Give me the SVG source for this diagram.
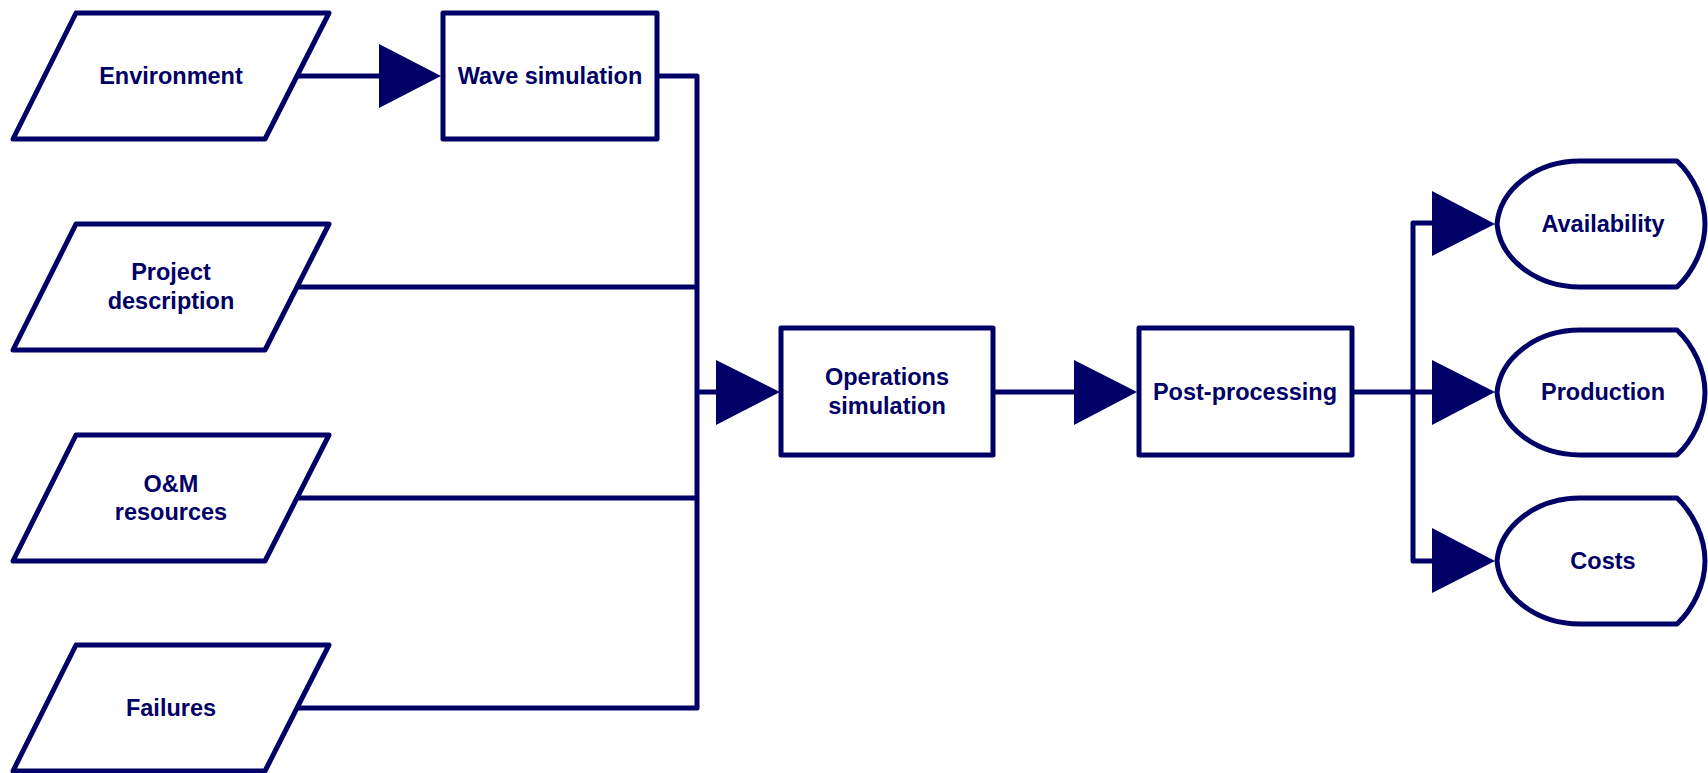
<svg xmlns="http://www.w3.org/2000/svg" width="1708" height="773" viewBox="0 0 1708 773">
<style>
.shape{fill:#ffffff;stroke:#000066;stroke-width:5;stroke-linejoin:round}
.line{fill:none;stroke:#000066;stroke-width:5;stroke-linejoin:round}
.head{fill:#000066;stroke:none}
.lbl{font-family:"Liberation Sans",Arial,sans-serif;font-weight:bold;font-size:23.5px;fill:#000066;text-anchor:middle}
</style>
<rect width="1708" height="773" fill="#ffffff"/>
<g id="connectors">
<polyline class="line" points="297,76 380,76"/>
<polygon class="head" points="379,44 441,76 379,108"/>
<polyline class="line" points="657,76 697,76 697,708 297,708"/>
<polyline class="line" points="297,287 697,287"/>
<polyline class="line" points="297,498 697,498"/>
<polyline class="line" points="697,392 717,392"/>
<polygon class="head" points="716,360 780,392 716,425"/>
<polyline class="line" points="993,392 1075,392"/>
<polygon class="head" points="1074,360 1137,392 1074,425"/>
<polyline class="line" points="1352,392 1433,392"/>
<polyline class="line" points="1433,223 1413,223 1413,561 1433,561"/>
<polygon class="head" points="1432,191 1495,224 1432,256"/>
<polygon class="head" points="1432,360 1495,392 1432,425"/>
<polygon class="head" points="1432,528 1495,561 1432,593"/>
</g>
<g id="environment">
<polygon class="shape" points="76,13 329,13 265,139 13,139"/>
<text class="lbl" x="171" y="84">Environment</text>
</g>
<g id="project">
<polygon class="shape" points="76,224 329,224 265,350 13,350"/>
<text class="lbl" x="171" y="280">Project</text>
<text class="lbl" x="171" y="309">description</text>
</g>
<g id="om">
<polygon class="shape" points="76,435 329,435 265,561 13,561"/>
<text class="lbl" x="171" y="492">O&amp;M</text>
<text class="lbl" x="171" y="520">resources</text>
</g>
<g id="failures">
<polygon class="shape" points="76,645 329,645 265,771 13,771"/>
<text class="lbl" x="171" y="716">Failures</text>
</g>
<g id="wave">
<rect class="shape" x="443" y="13" width="214" height="126"/>
<text class="lbl" x="550" y="84">Wave simulation</text>
</g>
<g id="operations">
<rect class="shape" x="781" y="328" width="212" height="127"/>
<text class="lbl" x="887" y="385">Operations</text>
<text class="lbl" x="887" y="414">simulation</text>
</g>
<g id="postprocessing">
<rect class="shape" x="1139" y="328" width="213" height="127"/>
<text class="lbl" x="1245" y="400">Post-processing</text>
</g>
<g id="availability">
<path class="shape" d="M1580,161 L1677,161 C1693,176 1705,200 1705,224 C1705,248 1693,272 1677,287 L1580,287 C1535,287 1500,258 1497,224 C1500,190 1535,161 1580,161 Z"/>
<text class="lbl" x="1603" y="232">Availability</text>
</g>
<g id="production">
<path class="shape" d="M1580,330 L1677,330 C1693,345 1705,369 1705,392.5 C1705,416 1693,440 1677,455 L1580,455 C1535,455 1500,426 1497,392.5 C1500,359 1535,330 1580,330 Z"/>
<text class="lbl" x="1603" y="400">Production</text>
</g>
<g id="costs">
<path class="shape" d="M1580,498 L1677,498 C1693,513 1705,537 1705,561 C1705,585 1693,609 1677,624 L1580,624 C1535,624 1500,595 1497,561 C1500,527 1535,498 1580,498 Z"/>
<text class="lbl" x="1603" y="569">Costs</text>
</g>
</svg>
